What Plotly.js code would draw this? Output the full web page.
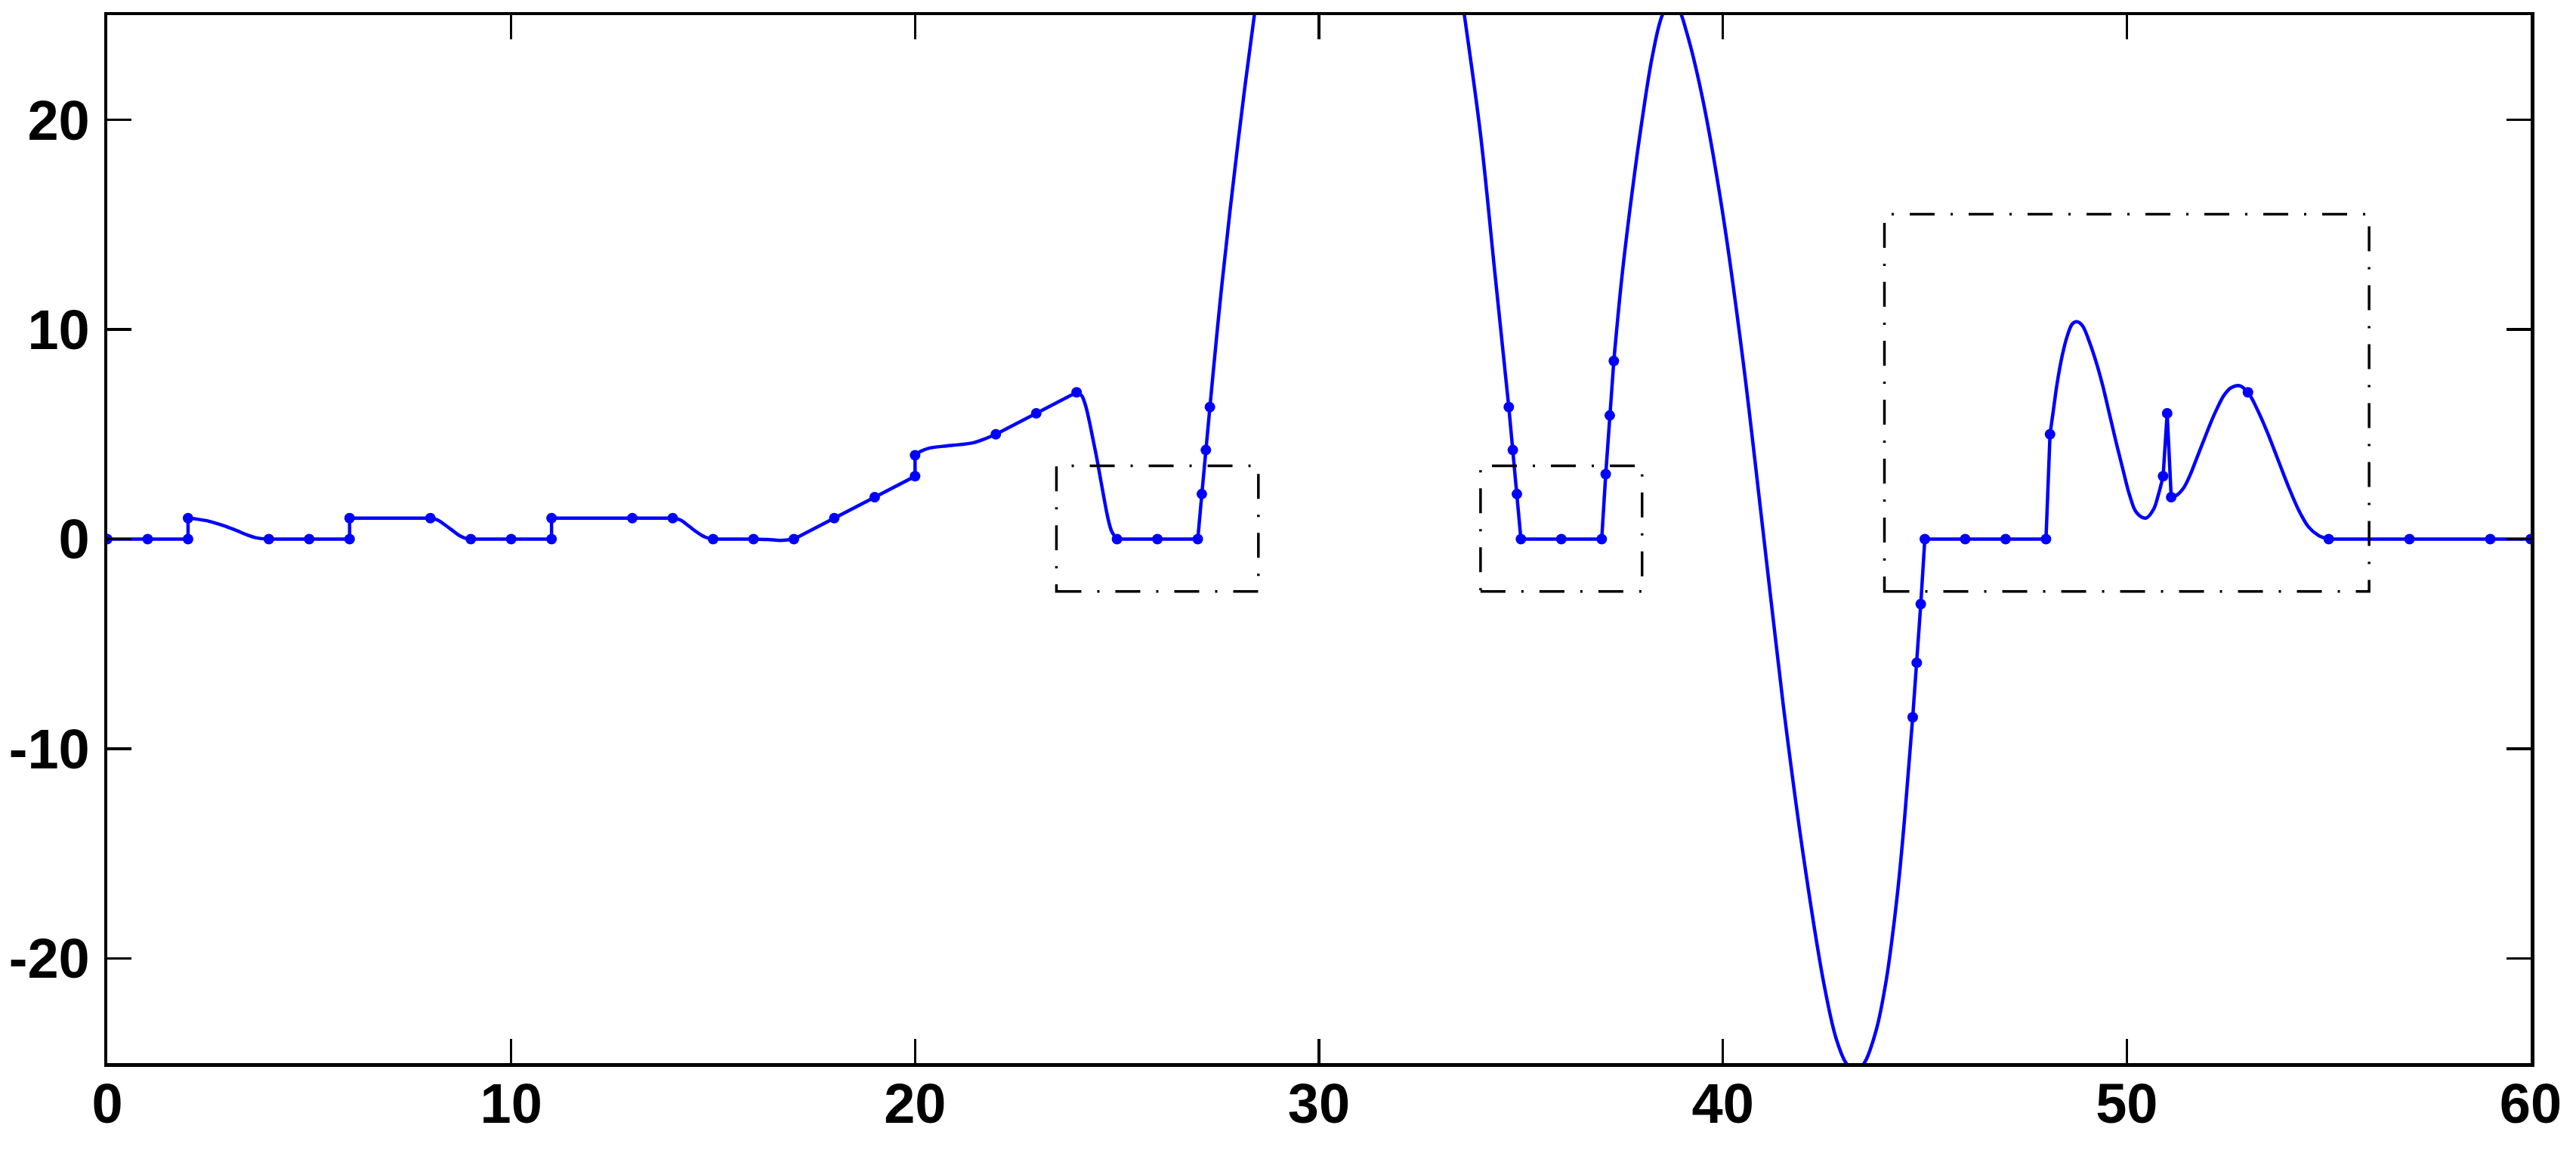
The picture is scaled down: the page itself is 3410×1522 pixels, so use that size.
<!DOCTYPE html>
<html>
<head>
<meta charset="utf-8">
<script src="https://cdn.plot.ly/plotly-3.0.1.min.js"></script>
<style>
  html, body { margin: 0; padding: 0; background: #fff; }
  #chart { width: 3410px; height: 1522px; }
</style>
</head>
<body>
<div id="chart"></div>
<script>
// sampled points (drawn as dots)
const sampleX = [0, 1, 2, 2, 4, 5, 6, 6, 8, 9, 10, 11, 11, 13, 14, 15, 16, 17, 18, 19, 20, 20,
  22, 23, 24, 25, 26, 27, 27.1, 27.2, 27.3, 34.7, 34.8, 34.9, 35, 36, 37, 37.1, 37.2, 37.3,
  44.7, 44.8, 44.9, 45, 46, 47, 48, 48.1, 50.9, 51, 51.1, 53, 55, 57, 59, 60];
const sampleY = [0, 0, 0, 1, 0, 0, 0, 1, 1, 0, 0, 0, 1, 1, 1, 0, 0, 0, 1, 2, 3, 4,
  5, 6, 7, 0, 0, 0, 2.15, 4.25, 6.3, 6.3, 4.25, 2.15, 0, 0, 0, 3.1, 5.9, 8.5,
  -8.5, -5.9, -3.1, 0, 0, 0, 0, 5, 3, 6, 2, 7, 0, 0, 0, 0];

const bendX = [2.2, 2.5, 2.85, 3.2, 3.45, 3.7,
  8.17, 8.38, 8.55, 8.71, 8.87,
  14.2, 14.4, 14.6, 14.8,
  16.35, 16.65, 16.85,
  20.14, 20.35, 20.69, 21.11, 21.45, 21.7,
  24.12, 24.22, 24.31, 24.4, 24.5, 24.59, 24.68, 24.78, 24.87,
  27.6, 28.0, 28.4, 29, 30, 31, 32, 33, 33.6, 34.0, 34.35,
  37.5, 37.75, 38.0, 38.25, 38.5, 38.7, 38.9, 39.1, 39.5, 40.0, 40.5, 41.0, 41.5, 42.0,
  42.5, 42.8, 43.05, 43.27, 43.5, 43.8, 44.04, 44.2, 44.35, 44.5,
  48.19, 48.27, 48.4, 48.53, 48.65, 48.76, 48.9, 49.07, 49.24, 49.4, 49.57, 49.74, 49.91,
  50.07, 50.24, 50.47, 50.66, 50.78,
  51.24, 51.41, 51.57, 51.74, 51.91, 52.08, 52.24, 52.41, 52.58, 52.79,
  53.25, 53.5, 53.75, 54.0, 54.25, 54.5, 54.75];
const bendY = [0.96, 0.86, 0.66, 0.41, 0.21, 0.06,
  0.92, 0.65, 0.41, 0.18, 0.04,
  0.9, 0.62, 0.33, 0.1,
  -0.02, -0.06, -0.04,
  4.19, 4.34, 4.43, 4.51, 4.6, 4.76,
  6.86, 6.38, 5.66, 4.81, 3.85, 2.89, 1.93, 0.96, 0.36,
  12.2, 19.0, 25.0, 33, 41, 44, 41, 33, 25.0, 19.3, 12.8,
  12.5, 16.5, 20.0, 23.0, 25.0, 25.6, 25.3, 24.2, 21.0, 15.5, 8.5, 0.3, -8.0, -15.2,
  -21.2, -23.8, -25.0, -25.4, -25.0, -23.4, -21.1, -18.9, -16.4, -13.3,
  6.25, 7.36, 8.74, 9.71, 10.26, 10.37, 10.19, 9.43, 8.46, 7.36, 5.98, 4.59, 3.28,
  2.1, 1.27, 1.0, 1.41, 2.1,
  2.1, 2.45, 3.07, 3.9, 4.73, 5.56, 6.25, 6.87, 7.22, 7.32,
  6.11, 5.0, 3.76, 2.52, 1.41, 0.58, 0.17];

// dash-dot boxes: [x0, x1, y0, y1]
const boxX0 = [23.5, 34, 44];
const boxX1 = [28.5, 38, 56];
const boxY0 = [-2.5, -2.5, -2.5];
const boxY1 = [3.5, 3.5, 15.5];

const xTicks = [0, 10, 20, 30, 40, 50, 60];
const yTicks = [-20, -10, 0, 10, 20];
const yTickText = ["-20", "-10", "0", "10", "20"];

// merge samples and curve points in x order (stable, keeps vertical steps)
let merged = sampleX.map((x, i) => ({x: x, y: sampleY[i], k: i, s: true}));
bendX.forEach((x, i) => merged.push({x: x, y: bendY[i], k: 1000 + i, s: false}));
merged.sort((a, b) => (a.x - b.x) || (a.k - b.k));

// split into straight pieces (sample to sample) and curved pieces (with bends)
let idx = [];
merged.forEach((p, i) => { if (p.s) idx.push(i); });
let lx = [], ly = [], cx = [], cy = [];
let prev = null;
for (let s = 0; s < idx.length - 1; s++) {
  const seg = merged.slice(idx[s], idx[s + 1] + 1);
  const curvy = seg.length > 2;
  const tx = curvy ? cx : lx, ty = curvy ? cy : ly;
  if (prev !== null && prev !== curvy) {
    const ox = prev ? cx : lx, oy = prev ? cy : ly;
    ox.push(null); oy.push(null);
  }
  const start = (prev === curvy) ? 1 : 0;
  for (let j = start; j < seg.length; j++) { tx.push(seg[j].x); ty.push(seg[j].y); }
  prev = curvy;
}

const blue = "#0000ff";
const straight = {
  x: lx, y: ly, type: "scatter", mode: "lines",
  line: {color: blue, width: 4.5}, connectgaps: false, hoverinfo: "skip"
};
const curved = {
  x: cx, y: cy, type: "scatter", mode: "lines",
  line: {color: blue, width: 4.5, shape: "spline", smoothing: 1}, connectgaps: false, hoverinfo: "skip"
};
const dots = {
  x: sampleX, y: sampleY, type: "scatter", mode: "markers",
  marker: {color: blue, size: 14}
};

const shapes = boxX0.map((x0, i) => ({
  type: "rect", xref: "x", yref: "y",
  x0: x0, x1: boxX1[i], y0: boxY0[i], y1: boxY1[i],
  line: {color: "#000", width: 3.5, dash: "33px,21px,3px,21px"}
}));

const tickFont = {family: "Liberation Sans, Arial, sans-serif", size: 74, color: "#000", weight: "bold"};

const axisCommon = {
  showgrid: false,
  zeroline: false,
  showline: true,
  linecolor: "#000",
  linewidth: 4.5,
  mirror: "ticks",
  ticks: "inside",
  ticklen: 32,
  tickwidth: 3.5,
  tickcolor: "#000",
  tickfont: tickFont
};

const layout = {
  width: 3410,
  height: 1522,
  margin: {l: 142, r: 60, t: 20, b: 115},
  paper_bgcolor: "#fff",
  plot_bgcolor: "#fff",
  showlegend: false,
  xaxis: Object.assign({}, axisCommon, {range: [0, 60], tickvals: xTicks, ticklabelstandoff: -14}),
  yaxis: Object.assign({}, axisCommon, {range: [-25, 25], tickvals: yTicks, ticktext: yTickText, ticklabelstandoff: 4}),
  shapes: shapes
};

Plotly.newPlot("chart", [straight, curved, dots], layout, {staticPlot: true});
</script>
</body>
</html>
